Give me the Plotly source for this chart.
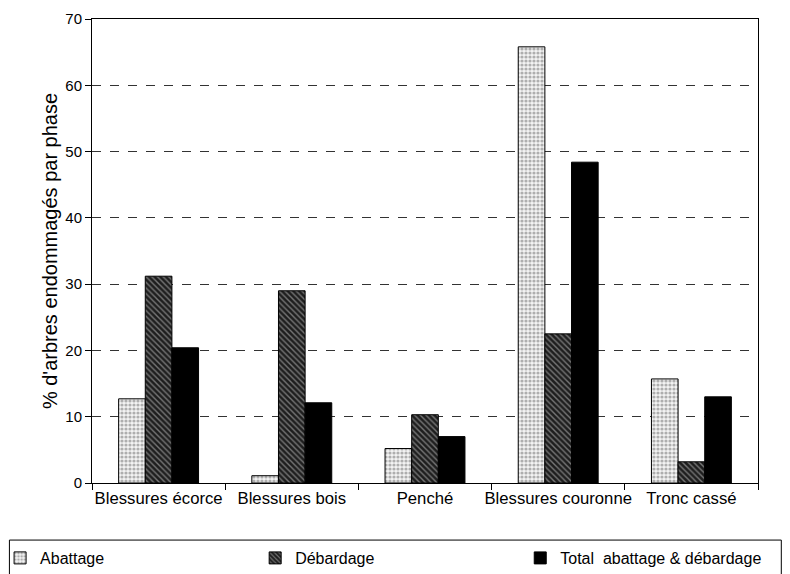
import plotly.graph_objects as go

categories = ["Blessures écorce", "Blessures bois", "Penché", "Blessures couronne", "Tronc cassé"]
abattage = [12.7, 1.1, 5.2, 65.8, 15.7]
debardage = [31.2, 29.0, 10.3, 22.5, 3.2]
total = [20.4, 12.1, 7.0, 48.4, 13.0]
series_names = ["Abattage", "Débardage", "Total  abattage & débardage"]
y_ticks = [0, 10, 20, 30, 40, 50, 60, 70]

font_family = "Liberation Sans, Arial, sans-serif"

fig = go.Figure()
fig.add_trace(go.Bar(
    x=categories, y=abattage, name=series_names[0], legend="legend",
    marker=dict(color="white", line=dict(color="black", width=1),
                pattern=dict(shape=".", fgcolor="#6a6a6a", bgcolor="#f3f3f3", size=4, solidity=0.5)),
))
fig.add_trace(go.Bar(
    x=categories, y=debardage, name=series_names[1], legend="legend2",
    marker=dict(color="#222", line=dict(color="black", width=1),
                pattern=dict(shape="\\", fgcolor="#cfcfcf", bgcolor="#1e1e1e", size=4, solidity=0.35)),
))
fig.add_trace(go.Bar(
    x=categories, y=total, name=series_names[2], legend="legend3",
    marker=dict(color="black", line=dict(color="black", width=1)),
))

leg_common = dict(
    orientation="h", xanchor="left", y=-0.125, yanchor="top",
    borderwidth=0, bgcolor="rgba(0,0,0,0)",
    font=dict(size=16, family=font_family),
)

fig.update_layout(
    width=782, height=566,
    margin=dict(l=84, r=32, t=11, b=91, autoexpand=False),
    paper_bgcolor="white", plot_bgcolor="white",
    barmode="group", bargap=0.4, bargroupgap=0,
    font=dict(family=font_family, color="black", size=15),
    showlegend=True,
    legend=dict(x=-0.138, **leg_common),
    legend2=dict(x=0.245, **leg_common),
    legend3=dict(x=0.643, **leg_common),
    shapes=[dict(
        type="rect", xref="paper", yref="paper",
        x0=-0.124, x1=1.035, y0=-0.25, y1=-0.123,
        line=dict(color="black", width=1), fillcolor="rgba(0,0,0,0)", layer="below",
    )],
)
fig.update_xaxes(
    showline=True, linecolor="black", linewidth=1, mirror=True,
    ticks="outside", ticklen=6, tickcolor="black", tickson="boundaries",
    tickfont=dict(size=16.7), tickangle=0, showgrid=False, automargin=False,
)
fig.update_yaxes(
    range=[0, 70], tickvals=y_ticks,
    showline=True, linecolor="black", linewidth=1, mirror=True,
    ticks="outside", ticklen=6, tickcolor="black",
    tickfont=dict(size=15), automargin=False,
    showgrid=True, gridcolor="#333", griddash="dash", gridwidth=1,
    zeroline=False,
    title=dict(text="% d'arbres endommagés par phase", font=dict(size=20), standoff=2),
)

fig.write_html("out.html")
